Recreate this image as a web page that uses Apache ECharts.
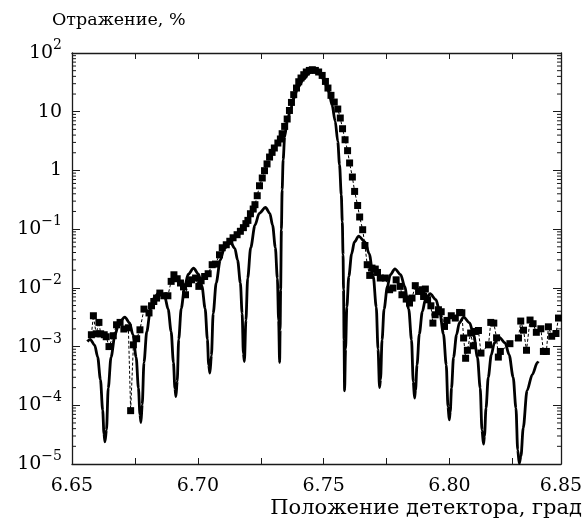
<!DOCTYPE html>
<html>
<head>
<meta charset="utf-8">
<script src="https://cdn.jsdelivr.net/npm/echarts@6/dist/echarts.min.js"></script>
<style>
html, body { margin: 0; padding: 0; background: #fff; }
#chart { width: 585px; height: 521px; }
</style>
</head>
<body>
<div id="chart"></div>
<script>
// теория (сплошная линия)
var theoryX = [
    6.6561, 6.6572, 6.6590, 6.6602, 6.6613, 6.6622, 6.6627, 6.6631,
    6.6637, 6.6644, 6.6655, 6.6671, 6.6686, 6.6710, 6.6729, 6.6742, 6.6755, 6.6764, 6.6770, 6.6774,
    6.6779, 6.6786, 6.6797, 6.6812, 6.6827, 6.6850, 6.6869, 6.6882, 6.6894, 6.6903, 6.6909, 6.6913,
    6.6918, 6.6924, 6.6934, 6.6948, 6.6962, 6.6983, 6.7003, 6.7016, 6.7029, 6.7038, 6.7043, 6.7048,
    6.7054, 6.7061, 6.7073, 6.7089, 6.7105, 6.7130, 6.7147, 6.7158, 6.7169, 6.7176, 6.7181, 6.7185,
    6.7191, 6.7198, 6.7210, 6.7227, 6.7244, 6.7269, 6.7286, 6.7297, 6.7308, 6.7316, 6.7321, 6.7325,
    6.7327, 6.7329, 6.7332, 6.7335, 6.7339, 6.7345, 6.7355, 6.7368, 6.7381, 6.7397, 6.7421, 6.7440, 6.7455,
    6.7471, 6.7487, 6.7500, 6.7520, 6.7533, 6.7546, 6.7556, 6.7563, 6.7570, 6.7574, 6.7577, 6.7579, 6.7581, 6.7583,
    6.7587, 6.7592, 6.7600, 6.7611, 6.7622, 6.7639, 6.7664, 6.7681, 6.7697, 6.7709, 6.7716, 6.7722,
    6.7726, 6.7732, 6.7740, 6.7753, 6.7765, 6.7783, 6.7806, 6.7822, 6.7838, 6.7849, 6.7856, 6.7861,
    6.7865, 6.7871, 6.7880, 6.7892, 6.7904, 6.7923, 6.7946, 6.7961, 6.7976, 6.7987, 6.7994, 6.7999,
    6.8003, 6.8008, 6.8016, 6.8028, 6.8039, 6.8056, 6.8080, 6.8096, 6.8111, 6.8122, 6.8129, 6.8135,
    6.8139, 6.8145, 6.8154, 6.8166, 6.8178, 6.8197, 6.8221, 6.8237, 6.8253, 6.8264, 6.8271, 6.8277,
    6.8284, 6.8293, 6.8308, 6.8329, 6.8349, 6.8353
];
var theoryY = [
    1.22e-3, 1.33e-3, 1.06e-3, 6.65e-4, 2.74e-4, 8.2e-5, 3.27e-5, 2.39e-5,
    3.78e-5, 1.96e-4, 6.55e-4, 1.59e-3, 2.53e-3, 3.18e-3, 2.53e-3, 1.59e-3, 6.55e-4, 1.96e-4, 6.97e-5, 5.09e-5,
    1.03e-4, 5.36e-4, 1.79e-3, 4.35e-3, 6.90e-3, 8.69e-3, 6.90e-3, 4.35e-3, 1.79e-3, 5.36e-4, 1.93e-4, 1.41e-4,
    2.56e-4, 1.33e-3, 4.44e-3, 0.0108, 0.0171, 0.0216, 0.0171, 0.0108, 4.44e-3, 1.33e-3, 4.84e-4, 3.54e-4,
    7.05e-4, 3.66e-3, 0.0122, 0.0296, 0.0470, 0.0593, 0.0470, 0.0296, 0.0122, 3.66e-3, 7.62e-4, 5.57e-4,
    2.79e-3, 0.0145, 0.0482, 0.117, 0.186, 0.234, 0.186, 0.117, 0.0482, 0.0145, 2.79e-3, 5.36e-4,
    1.93e-3, 9.29e-3, 0.0977, 0.469, 1.52, 3.75, 6.76, 10.8, 16.6, 25.6, 35.8, 44.4, 50.9,
    49.0, 42.7, 35.1, 22.2, 13.2, 6.84, 3.12, 1.25, 0.385, 0.134, 0.0366, 9.29e-3, 1.31e-3, 1.77e-4,
    9.06e-4, 4.70e-3, 0.0157, 0.0380, 0.0604, 0.0762, 0.0604, 0.0380, 0.0157, 4.70e-3, 9.06e-4, 2.01e-4,
    2.75e-4, 1.30e-3, 4.35e-3, 0.0105, 0.0168, 0.0211, 0.0168, 0.0105, 4.35e-3, 1.30e-3, 2.51e-4, 1.33e-4,
    1.82e-4, 4.89e-4, 1.63e-3, 3.95e-3, 6.28e-3, 7.93e-3, 6.28e-3, 3.95e-3, 1.63e-3, 4.89e-4, 9.42e-5, 5.66e-5,
    7.74e-5, 1.96e-4, 6.55e-4, 1.59e-3, 2.53e-3, 3.18e-3, 2.53e-3, 1.59e-3, 6.55e-4, 1.96e-4, 3.78e-5, 2.18e-5,
    2.99e-5, 8.95e-5, 2.99e-4, 7.24e-4, 1.15e-3, 1.45e-3, 1.15e-3, 7.24e-4, 2.99e-4, 8.95e-5, 1.73e-5, 1.02e-5,
    1.37e-5, 4.13e-5, 1.78e-4, 3.34e-4, 5.31e-4, 5.6e-4
];

// эксперимент (квадраты)
var expX = [
    6.6577, 6.6585, 6.6596, 6.6607, 6.6614, 6.6628, 6.6636, 6.6647, 6.6664, 6.6677,
    6.6691, 6.6706, 6.6724, 6.6733, 6.6744, 6.6757, 6.6770, 6.6786, 6.6806, 6.6816,
    6.6825, 6.6836, 6.6849, 6.6865, 6.6881, 6.6894, 6.6905, 6.6918, 6.6931, 6.6943,
    6.6951, 6.6963, 6.6975, 6.6991, 6.7004, 6.7013, 6.7027, 6.7041, 6.7057, 6.7070,
    6.7086, 6.7097, 6.7113, 6.7127, 6.7140, 6.7156, 6.7169, 6.7181, 6.7191, 6.7199,
    6.7209, 6.7220, 6.7227, 6.7236, 6.7245, 6.7256, 6.7265, 6.7275, 6.7285, 6.7295,
    6.7304, 6.7318, 6.7328, 6.7335, 6.7345, 6.7355, 6.7364, 6.7372, 6.7381, 6.7392,
    6.7401, 6.7410, 6.7421, 6.7431, 6.7443, 6.7455, 6.7467, 6.7480, 6.7494, 6.7507,
    6.7517, 6.7529, 6.7542, 6.7556, 6.7566, 6.7575, 6.7585, 6.7595, 6.7603, 6.7614,
    6.7623, 6.7635, 6.7643, 6.7655, 6.7664, 6.7673, 6.7683, 6.7692, 6.7705, 6.7714,
    6.7725, 6.7745, 6.7762, 6.7775, 6.7788, 6.7804, 6.7811, 6.7828, 6.7841, 6.7851,
    6.7864, 6.7877, 6.7891, 6.7897, 6.7904, 6.7913, 6.7926, 6.7934, 6.7943, 6.7956,
    6.7967, 6.7980, 6.7990, 6.8007, 6.8023, 6.8040, 6.8049, 6.8056, 6.8064, 6.8071,
    6.8084, 6.8094, 6.8102, 6.8115, 6.8125, 6.8155, 6.8164, 6.8176, 6.8187, 6.8194,
    6.8202, 6.8240, 6.8274, 6.8283, 6.8294, 6.8306, 6.8320, 6.8332, 6.8345, 6.8363,
    6.8373, 6.8385, 6.8393, 6.8406, 6.8423, 6.8433
];
var expY = [
    1.59e-3, 3.35e-3, 1.65e-3, 2.58e-3, 1.65e-3, 1.59e-3, 1.47e-3, 1.0e-3, 1.53e-3, 2.35e-3,
    2.58e-3, 1.99e-3, 2.09e-3, 8.1e-5, 1.07e-3, 1.36e-3, 1.93e-3, 4.35e-3, 3.74e-3, 4.95e-3,
    5.86e-3, 6.70e-3, 8.15e-3, 7.33e-3, 7.33e-3, 0.0129, 0.0167, 0.0143, 0.0121, 0.0104,
    7.63e-3, 0.0118, 0.0137, 0.0147, 0.0106, 0.0132, 0.0156, 0.0174, 0.0248, 0.0254,
    0.0366, 0.0482, 0.0542, 0.0622, 0.0713, 0.0804, 0.092, 0.106, 0.124, 0.141,
    0.183, 0.22, 0.261, 0.371, 0.548, 0.743, 0.99, 1.29, 1.69, 2.03,
    2.41, 2.93, 3.43, 4.22, 5.62, 7.51, 10.5, 14.4, 19.5, 25.3,
    32.4, 37.5, 42.7, 47.5, 50.5, 51.9, 50.5, 47.5, 41.5, 32.8,
    25.3, 19.0, 14.6, 11.1, 7.81, 5.13, 3.33, 2.17, 1.34, 0.772,
    0.439, 0.253, 0.161, 0.0977, 0.0527, 0.0248, 0.0163, 0.0217, 0.0209, 0.0183,
    0.0147, 0.0147, 9.29e-3, 9.93e-3, 0.0137, 0.0106, 7.63e-3, 6.44e-3, 5.51e-3, 6.70e-3,
    0.0109, 8.69e-3, 9.29e-3, 7.13e-3, 9.55e-3, 6.27e-3, 4.95e-3, 2.51e-3, 3.48e-3, 4.24e-3,
    3.92e-3, 2.20e-3, 2.79e-3, 3.35e-3, 3.06e-3, 3.81e-3, 3.77e-3, 1.40e-3, 6.32e-4, 8.65e-4,
    1.70e-3, 1.03e-3, 1.81e-3, 1.88e-3, 7.75e-4, 1.07e-3, 2.58e-3, 2.51e-3, 1.41e-3, 6.62e-4,
    8.26e-4, 1.12e-3, 1.40e-3, 2.72e-3, 1.90e-3, 8.65e-4, 2.83e-3, 2.45e-3, 1.75e-3, 2.01e-3,
    8.26e-4, 8.26e-4, 2.17e-3, 1.50e-3, 1.67e-3, 3.06e-3
];

// оси
var xMin = 6.65, xMax = 6.8443;
var xLabels = ['6.65', '6.70', '6.75', '6.80', '6.85'];
var yMin = 1e-5, yMax = 100;
var minorMult = [2, 3, 4, 5, 6, 7, 8, 9];

var font = 'DejaVu Serif';

function zip(a, b) {
    var out = [];
    for (var i = 0; i < a.length; i++) out.push([a[i], b[i]]);
    return out;
}

var minorData = [];
for (var e = -5; e < 2; e++) {
    for (var k = 0; k < minorMult.length; k++) {
        minorData.push([xMin, minorMult[k] * Math.pow(10, e)]);
    }
}

var dom = document.getElementById('chart');
var myChart = echarts.init(dom, null, {renderer: 'canvas'});

var axisColor = '#1a1a1a';

option = {
    animation: false,
    backgroundColor: '#ffffff',
    grid: {
        left: 72, right: 24, top: 53, bottom: 57,
        containLabel: false,
        outerBoundsMode: 'none'
    },
    xAxis: [{
        type: 'value',
        min: xMin, max: xMax,
        interval: 0.025,
        position: 'bottom',
        axisLine: {onZero: false, lineStyle: {color: axisColor, width: 1.3}},
        axisTick: {inside: true, length: 6, lineStyle: {color: axisColor, width: 1}},
        splitLine: {show: false},
        axisLabel: {
            showMinLabel: true,
            showMaxLabel: true,
            margin: 13,
            color: '#000',
            fontFamily: font,
            fontSize: 19,
            formatter: function (v) {
                if (Math.abs(v - xMax) < 1e-6) return xLabels[xLabels.length - 1];
                var k = (v - xMin) / 0.05;
                var r = Math.round(k);
                if (Math.abs(k - r) < 1e-6 && r < xLabels.length) return xLabels[r];
                return '';
            }
        }
    }, {
        type: 'value',
        min: xMin, max: xMax,
        interval: 0.025,
        position: 'top',
        axisLine: {onZero: false, lineStyle: {color: axisColor, width: 1.3}},
        axisTick: {inside: true, length: 6, lineStyle: {color: axisColor, width: 1}},
        splitLine: {show: false},
        axisLabel: {show: false}
    }],
    yAxis: [{
        type: 'log',
        logBase: 10,
        min: yMin, max: yMax,
        splitNumber: 7,
        axisLine: {onZero: false, lineStyle: {color: axisColor, width: 1.3}},
        axisTick: {inside: true, length: 8, lineStyle: {color: axisColor, width: 1}},
        splitLine: {show: false},
        axisLabel: {
            margin: 10,
            color: '#000',
            formatter: function (v) {
                var e = Math.round(Math.log(v) / Math.LN10);
                if (e === 0) return '{b|1}';
                if (e === 1) return '{b|10}';
                return '{b|10}{s|' + (e < 0 ? '\u2212' + (-e) : e) + '}';
            },
            rich: {
                b: {fontFamily: font, fontSize: 19, lineHeight: 22, color: '#000', verticalAlign: 'middle'},
                s: {fontFamily: font, fontSize: 14, lineHeight: 14, color: '#000', padding: [0, 0, 15, 0], verticalAlign: 'middle'}
            }
        }
    }, {
        type: 'log',
        logBase: 10,
        min: yMin, max: yMax,
        splitNumber: 7,
        position: 'right',
        axisLine: {onZero: false, lineStyle: {color: axisColor, width: 1.3}},
        axisTick: {inside: true, length: 8, lineStyle: {color: axisColor, width: 1}},
        splitLine: {show: false},
        axisLabel: {show: false}
    }],
    graphic: [{
        type: 'text',
        left: 52, top: 11,
        style: {text: 'Отражение, %', font: '17.5px "DejaVu Serif"', fill: '#000'}
    }, {
        type: 'text',
        right: 3, top: 498,
        style: {text: 'Положение детектора, град', font: '21px "DejaVu Serif"', fill: '#000'}
    }],
    series: [{
        // малые деления логарифмической шкалы
        type: 'custom',
        silent: true,
        xAxisIndex: 0, yAxisIndex: 0,
        data: minorData,
        clip: false,
        renderItem: function (params, api) {
            var p = api.coord([api.value(0), api.value(1)]);
            var cs = params.coordSys;
            return {
                type: 'group',
                children: [{
                    type: 'line',
                    shape: {x1: cs.x, y1: p[1], x2: cs.x + 4, y2: p[1]},
                    style: {stroke: axisColor, lineWidth: 1}
                }, {
                    type: 'line',
                    shape: {x1: cs.x + cs.width, y1: p[1], x2: cs.x + cs.width - 4, y2: p[1]},
                    style: {stroke: axisColor, lineWidth: 1}
                }]
            };
        }
    }, {
        name: 'theory',
        type: 'line',
        data: zip(theoryX, theoryY),
        symbol: 'none',
        smooth: 0.3,
        smoothMonotone: 'x',
        lineStyle: {color: '#000', width: 2.8},
        z: 3
    }, {
        name: 'experiment',
        type: 'line',
        data: zip(expX, expY),
        symbol: 'rect',
        symbolSize: 7,
        itemStyle: {color: '#000'},
        lineStyle: {color: '#000', width: 1, type: [3, 2]},
        z: 4
    }]
};
myChart.setOption(option);
</script>
</body>
</html>
